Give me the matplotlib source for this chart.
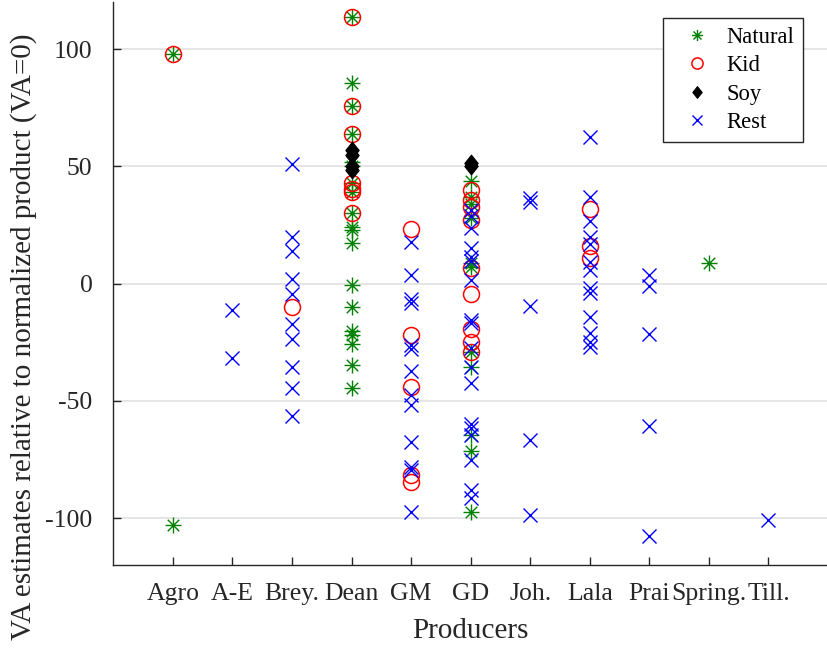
import matplotlib
matplotlib.use("Agg")
import matplotlib.pyplot as plt
from matplotlib.path import Path

plt.rcParams['font.family'] = ['Liberation Serif', 'DejaVu Serif']
plt.rcParams['axes.unicode_minus'] = False

producers = ['Agro', 'A-E', 'Brey.', 'Dean', 'GM', 'GD', 'Joh.', 'Lala', 'Prai', 'Spring.', 'Till.']

# VA estimates per group, as (producer, value)
natural_prod = (['Agro'] * 2 + ['Dean'] * 19 + ['GD'] * 11 + ['Spring.'])
natural_va = [98, -103,
              113.6, 85.8, 75.9, 63.9, 52, 50, 43, 39.3, 30.3, 24.3, 23, 17.2,
              -0.6, -10.1, -20, -22, -25.7, -34.7, -44.6,
              44, 37, 34, 28, 9, 7, -29, -35.7, -64.5, -71.2, -97.3,
              9]

kid_prod = (['Agro'] + ['Brey.'] + ['Dean'] * 7 + ['GM'] * 5 + ['GD'] * 9 + ['Lala'] * 3)
kid_va = [98,
          -10.1,
          113.6, 75.9, 63.9, 43.1, 40.5, 39.3, 30.3,
          23.2, -21.9, -43.9, -81.6, -84.5,
          40, 35.7, 32.9, 27.2, 6.6, -4.4, -19.5, -24.7, -29,
          31.7, 16.1, 10.8]

soy_prod = ['Dean'] * 4 + ['GD'] * 2
soy_va = [57, 55, 50, 48.5, 51.4, 50]

rest_prod = (['A-E'] * 2 + ['Brey.'] * 10 + ['GM'] * 13 + ['GD'] * 18 +
             ['Joh.'] * 5 + ['Lala'] * 13 + ['Prai'] * 5 + ['Till.'])
rest_va = [-11.4, -31.6,
           50.9, 19.9, 14.0, 1.9, -4.3, -17.3, -23.7, -35.4, -44.6, -56.4,
           17.9, 3.7, -6.5, -8.1, -26.2, -28, -37.1, -47.5, -51.7, -67.4, -78.1, -79.5, -97.3,
           31.4, 29, 23.6, 15.1, 11.5, 9.5, 1.6, -15.5, -16.9, -27.6, -35.7, -42.2,
           -59.9, -61.7, -64.5, -75.2, -88, -91.6,
           36.4, 35, -9.4, -66.7, -98.7,
           62.4, 37.1, 26.9, 19.8, 17, 9.4, 5.8, -2.0, -4.1, -14.1, -21.2, -24.7, -26.9,
           3.7, -1.0, -21.6, -60.6, -107.6,
           -100.8]

yticks = [-100, -50, 0, 50, 100]

# matlab-like asterisk: plus + cross
d = 0.72
star = Path([(-1, 0), (1, 0), (0, -1), (0, 1), (-d, -d), (d, d), (-d, d), (d, -d)],
            [Path.MOVETO, Path.LINETO] * 4)
diamond = Path([(0, 1), (0.8, 0), (0, -1), (-0.8, 0), (0, 1)],
               [Path.MOVETO, Path.LINETO, Path.LINETO, Path.LINETO, Path.CLOSEPOLY])

pos = {p: i + 1 for i, p in enumerate(producers)}

fig = plt.figure(figsize=(8.28, 6.49), dpi=100)
ax = fig.add_axes([113.3 / 828, 84 / 649, (828 - 113.3) / 828, 562.6 / 649])
axcol = (0.15, 0.15, 0.15)

ax.plot([pos[p] for p in natural_prod], natural_va, linestyle='none', marker=star,
        ms=11.5, mec='green', mfc='none', mew=1.0, label='Natural')
ax.plot([pos[p] for p in kid_prod], kid_va, linestyle='none', marker='o',
        ms=11.5, mec='red', mfc='none', mew=1.1, label='Kid')
ax.plot([pos[p] for p in soy_prod], soy_va, linestyle='none', marker=diamond,
        ms=12, mec='black', mfc='black', mew=0.8, label='Soy')
ax.plot([pos[p] for p in rest_prod], rest_va, linestyle='none', marker='x',
        ms=9.5, mec='blue', mew=1.0, label='Rest')

ax.set_xlim(0, 12)
ax.set_ylim(-120, 120)
ax.set_xticks(range(1, len(producers) + 1))
ax.set_xticklabels(producers)
ax.set_yticks(yticks)
ax.set_yticklabels([str(v) for v in yticks])
ax.yaxis.grid(True, color=(0.87, 0.87, 0.87), linewidth=1.1)
ax.set_axisbelow(True)

for s in ['top', 'right']:
    ax.spines[s].set_visible(False)
for s in ['left', 'bottom']:
    ax.spines[s].set_color(axcol)
    ax.spines[s].set_linewidth(1.0)
ax.tick_params(direction='in', length=5.5, width=1.0, color=axcol,
               labelcolor=axcol, labelsize=18.5)
ax.tick_params(axis='x', pad=13)
ax.tick_params(axis='y', pad=15)

ax.set_xlabel('Producers', fontsize=21, color=axcol, labelpad=9)
ax.set_ylabel('VA estimates relative to normalized product (VA=0)', fontsize=21,
              color=axcol, va='center')
ax.yaxis.set_label_coords(-0.1262, 0.405)

leg = ax.legend(loc='upper left', bbox_to_anchor=(663 / 828, 1 - 18 / 649),
                bbox_transform=fig.transFigure, borderaxespad=0, fontsize=16.3,
                markerscale=0.7, fancybox=False, framealpha=1, edgecolor=axcol,
                handlelength=2.2, labelspacing=0.33, borderpad=0.38, handletextpad=0.22)
leg.get_frame().set_linewidth(1.0)

fig.savefig('out.png', dpi=100)
